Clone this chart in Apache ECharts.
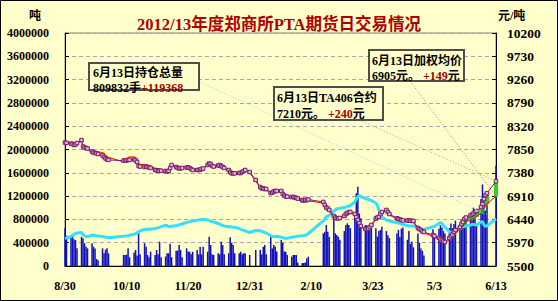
<!DOCTYPE html>
<html><head><meta charset="utf-8">
<script src="https://cdn.jsdelivr.net/npm/echarts/dist/echarts.min.js"></script>
<style>html,body{margin:0;padding:0;background:#FFFFCC;}#c{width:558px;height:301px;}</style>
</head><body><div id="c"></div>
<script>
const titleText = '2012/13年度郑商所PTA期货日交易情况';
const leftUnit = '吨';
const rightUnit = '元/吨';

const tradeDates = [
'2012-08-30','2012-08-31',
'2012-09-03','2012-09-04','2012-09-05','2012-09-06','2012-09-07',
'2012-09-10','2012-09-11','2012-09-12','2012-09-13','2012-09-14',
'2012-09-17','2012-09-18','2012-09-19','2012-09-20','2012-09-21',
'2012-09-24','2012-09-25','2012-09-26','2012-09-27','2012-09-28',
'2012-10-08','2012-10-09','2012-10-10','2012-10-11','2012-10-12',
'2012-10-15','2012-10-16','2012-10-17','2012-10-18','2012-10-19',
'2012-10-22','2012-10-23','2012-10-24','2012-10-25','2012-10-26',
'2012-10-29','2012-10-30','2012-10-31','2012-11-01','2012-11-02',
'2012-11-05','2012-11-06','2012-11-07','2012-11-08','2012-11-09',
'2012-11-12','2012-11-13','2012-11-14','2012-11-15','2012-11-16',
'2012-11-19','2012-11-20','2012-11-21','2012-11-22','2012-11-23',
'2012-11-26','2012-11-27','2012-11-28','2012-11-29','2012-11-30',
'2012-12-03','2012-12-04','2012-12-05','2012-12-06','2012-12-07',
'2012-12-10','2012-12-11','2012-12-12','2012-12-13','2012-12-14',
'2012-12-17','2012-12-18','2012-12-19','2012-12-20','2012-12-21',
'2012-12-24','2012-12-25','2012-12-26','2012-12-27','2012-12-28',
'2012-12-31',
'2013-01-04',
'2013-01-07','2013-01-08','2013-01-09','2013-01-10','2013-01-11',
'2013-01-14','2013-01-15','2013-01-16','2013-01-17','2013-01-18',
'2013-01-21','2013-01-22','2013-01-23','2013-01-24','2013-01-25',
'2013-01-28','2013-01-29','2013-01-30','2013-01-31','2013-02-01',
'2013-02-04','2013-02-05','2013-02-06','2013-02-07','2013-02-08',
'2013-02-18','2013-02-19','2013-02-20','2013-02-21','2013-02-22',
'2013-02-25','2013-02-26','2013-02-27','2013-02-28','2013-03-01',
'2013-03-04','2013-03-05','2013-03-06','2013-03-07','2013-03-08',
'2013-03-11','2013-03-12','2013-03-13','2013-03-14','2013-03-15',
'2013-03-18','2013-03-19','2013-03-20','2013-03-21','2013-03-22',
'2013-03-25','2013-03-26','2013-03-27','2013-03-28','2013-03-29',
'2013-04-01','2013-04-02','2013-04-03',
'2013-04-08','2013-04-09','2013-04-10','2013-04-11','2013-04-12',
'2013-04-15','2013-04-16','2013-04-17','2013-04-18','2013-04-19',
'2013-04-22','2013-04-23','2013-04-24','2013-04-25','2013-04-26',
'2013-05-02','2013-05-03',
'2013-05-06','2013-05-07','2013-05-08','2013-05-09','2013-05-10',
'2013-05-13','2013-05-14','2013-05-15','2013-05-16','2013-05-17',
'2013-05-20','2013-05-21','2013-05-22','2013-05-23','2013-05-24',
'2013-05-27','2013-05-28','2013-05-29','2013-05-30','2013-05-31',
'2013-06-03','2013-06-04','2013-06-05','2013-06-06','2013-06-07',
'2013-06-13'
];

// daily volume (吨, left axis)
const volume = [
650000,520000,
515000,549000,460000,446000,303000,
503000,475000,390000,330000,303000,
390000,331000,300000,120000,100000,
303000,218000,280000,303000,218000,
189000,189000,195000,303000,150000,
230000,275000,180000,561000,200000,
390000,331000,189000,150000,246000,
189000,275000,200000,417000,150000,
163000,218000,218000,380000,150000,
260000,263000,360000,275000,150000,
303000,250000,245000,200000,245000,
275000,200000,330000,200000,330000,
245000,503000,360000,200000,189000,
218000,200000,417000,360000,200000,
218000,493000,400000,360000,218000,
218000,245000,200000,218000,218000,
189000,
275000,
275000,200000,330000,360000,200000,
515000,300000,360000,330000,250000,
446000,400000,250000,245000,189000,
160000,189000,189000,189000,60000,
50000,50000,60000,130000,160000,
560000,590000,704000,590000,500000,
846000,561000,532000,503000,450000,
600000,704000,733000,704000,650000,
846000,1250000,1360000,900000,820000,
704000,700000,675000,675000,650000,
647000,503000,600000,618000,675000,
600000,530000,480000,
560000,620000,500000,640000,660000,
450000,600000,380000,420000,320000,
560000,400000,300000,260000,180000,
630000,560000,
640000,700000,660000,600000,560000,
650000,730000,650000,720000,780000,
700000,800000,740000,860000,760000,
900000,820000,1000000,880000,700000,
1150000,1400000,1000000,950000,1100000,
1720000
];

// 持仓总量 (手, left axis)
const openInterest = [
475000,480000,
506000,523000,540000,558000,566000,
575000,540000,523000,506000,506000,
527000,532000,523000,518000,515000,
506000,498000,498000,489000,484000,
510000,515000,515000,520000,527000,
544000,553000,570000,589000,604000,
627000,630000,630000,630000,630000,
642000,647000,656000,664000,675000,
699000,695000,678000,675000,682000,
690000,699000,707000,712000,721000,
747000,755000,760000,767000,773000,
786000,790000,793000,797000,800000,
793000,781000,767000,760000,755000,
730000,721000,704000,695000,687000,
673000,675000,670000,666000,664000,
644000,630000,621000,613000,604000,
575000,
609000,
609000,592000,584000,575000,566000,
523000,506000,503000,506000,510000,
493000,488000,481000,475000,477000,
493000,496000,501000,506000,512000,
518000,523000,529000,535000,558000,
773000,807000,841000,858000,867000,
944000,961000,978000,987000,991000,
1004000,1008000,1021000,1030000,1039000,
1099000,1150000,1190000,1210000,1193000,
1159000,1150000,1142000,1133000,1124000,
1082000,1039000,961000,893000,841000,
790000,781000,773000,
742000,738000,733000,721000,712000,
695000,687000,687000,687000,687000,
670000,644000,627000,618000,627000,
675000,678000,
730000,747000,733000,695000,670000,
584000,561000,575000,601000,618000,
661000,670000,675000,678000,687000,
704000,712000,712000,709000,704000,
755000,764000,704000,678000,690464,
809832
];

// TA406 合约价格 (元/吨, right axis)
const mainPrice = [
7990,7985,
7970,7960,7940,7950,7980,
8040,7910,7890,7880,7870,
7810,7790,7780,7775,7760,
7730,7700,7670,7650,7640,
7625,7625,7630,7640,7642,
7648,7628,7598,7517,7507,
7497,7503,7497,7491,7477,
7436,7430,7422,7422,7422,
7416,7406,7420,7477,7537,
7497,7477,7471,7471,7477,
7487,7487,7477,7456,7436,
7436,7436,7446,7456,7467,
7537,7567,7557,7517,7507,
7527,7537,7517,7497,7477,
7436,7396,7370,7370,7370,
7376,7376,7396,7416,7436,
7396,
7235,
7093,7067,7063,7053,7053,
6972,6982,7003,7013,7013,
7013,6952,6922,6902,6898,
6892,6892,6882,6872,6861,
6831,6831,6831,6831,6841,
6791,6730,6680,6660,6630,
6509,6478,6462,6462,6468,
6509,6549,6569,6589,6589,
6549,6488,6428,6367,6307,
6246,6246,6256,6287,6327,
6458,6478,6494,6549,6589,
6630,6589,6549,
6462,6448,6438,6428,6418,
6418,6414,6414,6410,6408,
6266,6246,6226,6196,6186,
6125,6105,
6065,6035,6014,5994,5984,
6065,6105,6135,6186,6226,
6287,6347,6387,6448,6478,
6519,6539,6559,6589,6609,
6690,6751,6851,6932,6970,
7210
];

// 加权均价 (元/吨, right axis)
const avgPrice = [
7970,7975,
7985,7990,7965,7940,7990,
8010,7930,7920,7860,7845,
7780,7760,7750,7790,7800,
7790,7770,7740,7700,7690,
7600,7595,7610,7690,7700,
7700,7690,7650,7560,7550,
7545,7540,7535,7520,7510,
7470,7465,7440,7430,7415,
7400,7395,7430,7470,7520,
7510,7490,7480,7490,7495,
7500,7495,7470,7450,7440,
7430,7440,7450,7465,7480,
7530,7560,7550,7520,7500,
7520,7530,7510,7490,7470,
7430,7390,7365,7365,7360,
7370,7372,7390,7410,7428,
7380,
7210,
7080,7050,7045,7040,7035,
6960,6970,6990,7000,7000,
7000,6940,6905,6890,6885,
6870,6865,6860,6850,6840,
6790,6790,6795,6800,6815,
6770,6710,6660,6640,6610,
6490,6460,6445,6445,6455,
6490,6530,6550,6570,6575,
6530,6470,6410,6350,6290,
6230,6230,6240,6270,6310,
6440,6460,6475,6530,6570,
6610,6570,6530,
6445,6430,6420,6410,6400,
6398,6395,6392,6390,6388,
6245,6225,6205,6175,6165,
6100,6080,
6040,6010,5990,5970,5960,
6030,6070,6100,6140,6175,
6230,6285,6320,6370,6395,
6430,6445,6460,6485,6500,
6560,6610,6680,6730,6756,
6905
];

// annotation texts
const noteOI = ['6月13日持仓总量', '809832手', '+119368'];
const noteTA = ['6月13日TA406合约', '7210元。 ', '+240', '元'];
const noteAvg = ['6月13日加权均价', '6905元。 ', '+149', '元'];

// ---- build calendar-day category table (date axis) ----
const DAY = 86400000;
function parseD(s){ const p = s.split('-').map(Number); return Date.UTC(p[0], p[1]-1, p[2]); }
const t0 = parseD(tradeDates[0]), t1 = parseD(tradeDates[tradeDates.length-1]);
const calendar = [];
for (let t = t0; t <= t1; t += DAY) calendar.push(t);
const catLabels = calendar.map(t => { const d = new Date(t); return (d.getUTCMonth()+1) + '/' + d.getUTCDate(); });
const idxOf = {};
tradeDates.forEach((s, i) => { idxOf[parseD(s)] = i; });
function onCal(arr){ return calendar.map(t => (t in idxOf) ? arr[idxOf[t]] : null); }
const bandData = calendar.map(t => {
  if (!(t in idxOf)) return '-';
  const i = idxOf[t];
  const a = mainPrice[i], b = avgPrice[i];
  return [a, b, Math.min(a, b), Math.max(a, b)];
});

const FONT = "'Liberation Serif','Times New Roman','Noto Sans CJK SC',serif";
const CJK = "'Liberation Serif','Noto Sans CJK SC',serif";
const plain = v => String(v);

const option = {
  backgroundColor: '#FFFFCC',
  animation: false,
  title: {
    text: titleText, left: 'center', top: 11,
    textStyle: { fontFamily: CJK, fontSize: 16.5, fontWeight: 'bold', color: '#B00000' }
  },
  grid: { left: 65, right: 62, top: 33, bottom: 35, show: true, borderColor: '#808080', borderWidth: 1, backgroundColor: 'transparent', outerBoundsMode: 'none', containLabel: false },
  xAxis: {
    type: 'category', data: catLabels, boundaryGap: false,
    axisLine: { lineStyle: { color: '#000', width: 1 } },
    axisTick: { show: false },
    splitLine: { show: false },
    axisLabel: { interval: 40, margin: 14, fontFamily: FONT, fontSize: 12, fontWeight: 'bold', color: '#000', hideOverlap: false }
  },
  yAxis: [
    {
      type: 'value', min: 0, max: 4000000, interval: 400000,
      name: leftUnit, nameLocation: 'end', nameGap: 11,
      nameTextStyle: { fontFamily: CJK, fontSize: 12, fontWeight: 'bold', color: '#000', align: 'right', padding: [0, 24, 0, 0] },
      axisLine: { show: true, lineStyle: { color: '#000' } },
      axisTick: { show: true, inside: true, length: 4, lineStyle: { color: '#000' } },
      axisLabel: { margin: 16, fontFamily: FONT, fontSize: 12, fontWeight: 'bold', color: '#000', formatter: plain },
      splitLine: { show: true, lineStyle: { color: '#A8A8A8', type: [4, 3], width: 1 } }
    },
    {
      type: 'value', min: 5500, max: 10200, interval: 470, position: 'right',
      name: rightUnit, nameLocation: 'end', nameGap: 11,
      nameTextStyle: { fontFamily: CJK, fontSize: 12, fontWeight: 'bold', color: '#000', align: 'left', padding: [0, 0, 0, 2] },
      axisLine: { show: true, lineStyle: { color: '#000' } },
      axisTick: { show: true, inside: true, length: 4, lineStyle: { color: '#000' } },
      axisLabel: { margin: 11, fontFamily: FONT, fontSize: 13.5, fontWeight: 'bold', color: '#000', formatter: plain },
      splitLine: { show: false }
    }
  ],
  series: [
    { name: '成交量', type: 'bar', yAxisIndex: 0, data: onCal(volume), barWidth: 1.5, itemStyle: { color: '#1010C0' }, z: 1 },
    { name: '持仓总量', type: 'line', yAxisIndex: 0, data: onCal(openInterest), connectNulls: true, showSymbol: false, lineStyle: { color: '#33E0FF', width: 3 }, z: 2 },
    { name: '价差', type: 'candlestick', yAxisIndex: 1, data: bandData, barWidth: 4,
      itemStyle: { color: '#FFFF00', color0: '#33CC33', borderColor: '#FFFF00', borderColor0: '#33CC33', borderWidth: 1 }, z: 3 },
    { name: '加权均价', type: 'line', yAxisIndex: 1, data: onCal(avgPrice), connectNulls: true, showSymbol: false, lineStyle: { color: '#FF0000', width: 1 }, z: 4 },
    { name: 'TA406合约', type: 'line', yAxisIndex: 1, data: onCal(mainPrice), connectNulls: true, symbol: 'rect', symbolSize: 3.5, showAllSymbol: true,
      itemStyle: { color: '#E0B8E0', borderColor: '#7A1A6A', borderWidth: 1 }, lineStyle: { color: '#7A1A6A', width: 1 }, z: 5 }
  ]
};

const chart = echarts.init(document.getElementById('c'), null, { renderer: 'svg' });
chart.setOption(option);

const lastCat = catLabels.length - 1;
const pOI = chart.convertToPixel({ xAxisIndex: 0, yAxisIndex: 0 }, [lastCat, openInterest[openInterest.length-1]]);
const pTA = chart.convertToPixel({ xAxisIndex: 0, yAxisIndex: 1 }, [lastCat, mainPrice[mainPrice.length-1]]);
const pAvg = chart.convertToPixel({ xAxisIndex: 0, yAxisIndex: 1 }, [lastCat, avgPrice[avgPrice.length-1]]);

const boxStyle = { fill: '#FFFFCC', stroke: '#4D4D4D', lineWidth: 2 };
const txt = { fontFamily: CJK, fontSize: 12, fontWeight: 'bold', fill: '#000', lineHeight: 15 };
const red = { fontFamily: CJK, fontSize: 12, fontWeight: 'bold', fill: '#A00000', lineHeight: 15 };
const dash = (c) => ({ stroke: c, lineWidth: 1, lineDash: [1, 2], fill: null });

chart.setOption({
  graphic: [
    { type: 'line', silent: true, z: 50, shape: { x1: 200, y1: 82, x2: pOI[0], y2: pOI[1] }, style: dash('#7FDCDC') },
    { type: 'line', silent: true, z: 50, shape: { x1: 357, y1: 119, x2: pTA[0], y2: pTA[1] }, style: dash('#66CC66') },
    { type: 'line', silent: true, z: 50, shape: { x1: 410, y1: 81, x2: pAvg[0], y2: pAvg[1] }, style: dash('#E06A5A') },

    { type: 'rect', silent: true, z: 60, shape: { x: 89, y: 63, width: 110, height: 27 }, style: boxStyle },
    { type: 'text', silent: true, z: 61, x: 93, y: 65,
      style: { text: '{k|' + noteOI[0] + '}\n{k|' + noteOI[1] + '}{r|' + noteOI[2] + '}', rich: { k: txt, r: red } } },

    { type: 'rect', silent: true, z: 60, shape: { x: 274, y: 87, width: 109, height: 33 }, style: boxStyle },
    { type: 'text', silent: true, z: 61, x: 277, y: 90,
      style: { text: '{k|' + noteTA[0] + '}\n{k|' + noteTA[1] + '}{r|' + noteTA[2] + '}{k|' + noteTA[3] + '}', rich: { k: Object.assign({}, txt, {lineHeight: 16}), r: Object.assign({}, red, {lineHeight: 16}) } } },

    { type: 'rect', silent: true, z: 60, shape: { x: 369, y: 50, width: 95, height: 31 }, style: boxStyle },
    { type: 'text', silent: true, z: 61, x: 372, y: 53,
      style: { text: '{k|' + noteAvg[0] + '}\n{k|' + noteAvg[1] + '}{r|' + noteAvg[2] + '}{k|' + noteAvg[3] + '}', rich: { k: txt, r: red } } },

    { type: 'rect', silent: true, z: 100, shape: { x: 0.5, y: 0.5, width: 557, height: 300 }, style: { fill: null, stroke: '#000', lineWidth: 1 } }
  ]
});
</script>
</body></html>
